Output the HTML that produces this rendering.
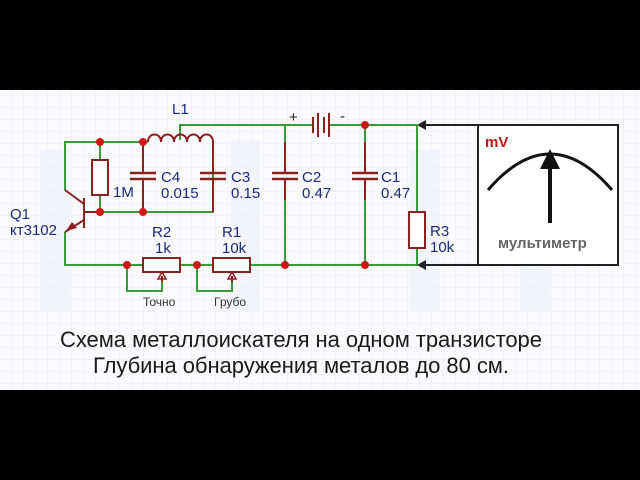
<!DOCTYPE html>
<html><head><meta charset="utf-8"><style>
html,body{margin:0;padding:0;background:#000;width:640px;height:480px;overflow:hidden}
svg{display:block}
</style></head><body>
<svg width="640" height="480" viewBox="0 0 640 480" xmlns="http://www.w3.org/2000/svg" font-family="Liberation Sans, sans-serif">
<defs>
<pattern id="g" width="12" height="12" patternUnits="userSpaceOnUse"><path d="M12 0V12H0" fill="none" stroke="#e8eaf2" stroke-width="1"/></pattern>
</defs>
<rect x="0" y="0" width="640" height="480" fill="#000"/>
<rect x="0" y="90" width="640" height="300" fill="#fbfbfd"/>
<rect x="0" y="90" width="640" height="300" fill="url(#g)"/>
<g fill="#f0f1f8" opacity="0.7">
<rect x="40" y="150" width="30" height="160"/><rect x="230" y="140" width="30" height="170"/><rect x="410" y="150" width="30" height="160"/><rect x="520" y="160" width="30" height="150"/>
</g>
<g stroke="#3a9a3a" stroke-width="2" fill="none">
<path d="M65 190V142H148"/>
<path d="M65 232V265H143"/>
<path d="M180 265H213M250 265H417V248"/>
<path d="M100 212H213V140"/>
<path d="M100 142V160M100 195V212"/>
<path d="M180 140V125H312M330 125H417"/>
<path d="M285 125V142M285 200V265M365 125V142M365 200V265M417 125V212"/>
<path d="M127 265V291H162V276M197 265V291H232V276"/>
</g>
<g stroke="#222" stroke-width="2" fill="none">
<path d="M478 125H420M478 265H420"/>
</g>
<g fill="#222"><path d="M417 125l9-5v10z"/><path d="M417 265l9-5v10z"/></g>
<g stroke="#8b2020" stroke-width="2" fill="#fff">
<rect x="92" y="160" width="16" height="35"/>
<rect x="143" y="258" width="37" height="14"/>
<rect x="213" y="258" width="37" height="14"/>
<rect x="409" y="212" width="16" height="36"/>
<path d="M148 142c0-10 13-10 13 0c0-10 13-10 13 0c0-10 13-10 13 0c0-10 13-10 13 0c0-10 13-10 13 0" fill="none"/>
<path d="M130 173h26M130 179h26M200 173h26M200 179h26M272 173h26M272 179h26M352 173h26M352 179h26" fill="none" stroke-width="2.5"/>
<path d="M143 142V173M143 179V212M213 140V173M213 179V212" fill="none"/>
<path d="M285 142V173M285 179V200M365 142V173M365 179V200" fill="none"/>
<path d="M84 198V228M84 212H100M84 204L65 190M84 220L65 232" fill="none"/>
<path d="M313 117v16M318 113v24M324 117v16M329 113v24" fill="none"/>
<path d="M162 276V282M232 276V282" fill="none"/>
</g>
<path d="M66 231l6-9 5 6z" fill="#8b2020"/>
<path d="M162 272l-4 7h8zM232 272l-4 7h8z" fill="none" stroke="#8b2020" stroke-width="1.5"/>
<g fill="#d01818">
<circle cx="100" cy="142" r="4"/><circle cx="143" cy="142" r="4"/><circle cx="100" cy="212" r="4"/><circle cx="143" cy="212" r="4"/>
<circle cx="365" cy="125" r="4"/><circle cx="127" cy="265" r="4"/><circle cx="197" cy="265" r="4"/><circle cx="285" cy="265" r="4"/><circle cx="365" cy="265" r="4"/>
</g>
<rect x="478" y="125" width="140" height="140" fill="#fff" stroke="#222" stroke-width="2"/>
<path d="M488 190Q550 118 612 190" fill="none" stroke="#111" stroke-width="3"/>
<path d="M550 223V165" stroke="#111" stroke-width="4"/>
<path d="M550 149l-10 20h20z" fill="#111"/>
<text x="485" y="147" font-size="15" font-weight="bold" fill="#c01818">mV</text>
<text x="498" y="248" font-size="15" font-weight="bold" fill="#666">мультиметр</text>
<g fill="#1a2a7a" font-size="15">
<text x="172" y="114">L1</text>
<text x="113" y="197">1M</text>
<text x="161" y="182">C4</text><text x="161" y="198">0.015</text>
<text x="231" y="182">C3</text><text x="231" y="198">0.15</text>
<text x="302" y="182">C2</text><text x="302" y="198">0.47</text>
<text x="381" y="182">C1</text><text x="381" y="198">0.47</text>
<text x="430" y="236">R3</text><text x="430" y="252">10k</text>
<text x="152" y="237">R2</text><text x="155" y="253">1k</text>
<text x="222" y="237">R1</text><text x="222" y="253">10k</text>
<text x="10" y="219">Q1</text><text x="10" y="235">кт3102</text>
</g>
<text x="289" y="122" font-size="15" fill="#222">+</text>
<text x="340" y="121" font-size="15" fill="#222">-</text>
<text x="143" y="306" font-size="12" fill="#333">Точно</text>
<text x="214" y="306" font-size="12" fill="#333">Грубо</text>
<text x="301" y="347" font-size="22" fill="#1a1a1a" text-anchor="middle" textLength="482">Схема металлоискателя на одном транзисторе</text>
<text x="301" y="373" font-size="22" fill="#1a1a1a" text-anchor="middle" textLength="416">Глубина обнаружения металов до 80 см.</text>
</svg>
</body></html>
